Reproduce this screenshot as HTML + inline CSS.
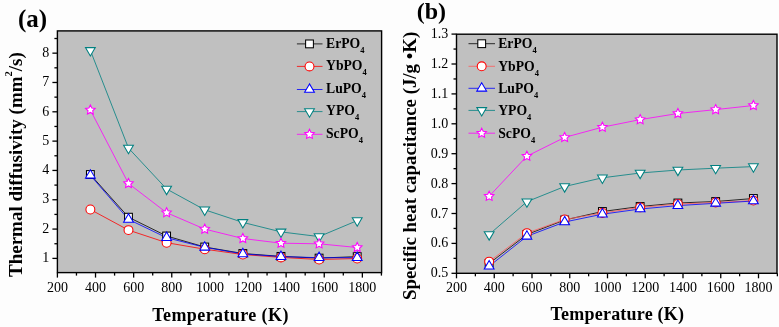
<!DOCTYPE html>
<html><head><meta charset="utf-8"><style>
html,body{margin:0;padding:0;background:#fdfdfd;}
svg{display:block;will-change:transform;}
text{font-family:"Liberation Serif",serif;fill:#000;}
.tk{font-size:14px;}
.lg{font-size:13.7px;font-weight:bold;}
.sub{font-size:8.5px;}
.sup{font-size:10.5px;font-weight:bold;}
.pl{font-size:25px;font-weight:bold;}
.plb{font-size:24px;font-weight:bold;}
.at{font-size:18px;font-weight:bold;letter-spacing:0.4px;}
.ata{font-size:19.0px;font-weight:bold;}
.atb{font-size:18.85px;font-weight:bold;}
.atxb{font-size:18px;font-weight:bold;letter-spacing:0.22px;}
</style></head><body>
<svg width="779" height="327" viewBox="0 0 779 327">
<rect width="779" height="327" fill="#fdfdfd"/>
<rect x="57.4" y="30.9" width="324.20000000000005" height="241.70000000000002" fill="#c0c0c0"/>
<polyline points="90.37,174.50 128.49,217.20 166.61,236.00 204.73,247.00 242.85,253.50 280.97,256.40 319.09,258.10 357.21,256.60" fill="none" stroke="#000000" stroke-width="0.8"/>
<polyline points="90.37,209.50 128.49,230.10 166.61,242.70 204.73,249.20 242.85,254.50 280.97,257.40 319.09,259.50 357.21,258.50" fill="none" stroke="#ff0000" stroke-width="0.8"/>
<polyline points="90.37,175.30 128.49,219.40 166.61,237.70 204.73,247.30 242.85,253.90 280.97,256.60 319.09,257.70 357.21,257.70" fill="none" stroke="#0000ff" stroke-width="0.8"/>
<polyline points="90.37,50.40 128.49,148.10 166.61,189.00 204.73,209.80 242.85,222.40 280.97,231.90 319.09,236.60 357.21,220.60" fill="none" stroke="#008080" stroke-width="0.8"/>
<polyline points="90.37,110.00 128.49,183.50 166.61,212.70 204.73,229.10 242.85,238.50 280.97,243.20 319.09,243.80 357.21,247.50" fill="none" stroke="#ff00ff" stroke-width="0.8"/>
<rect x="86.47" y="170.60" width="7.8" height="7.8" fill="#fff" stroke="#000000" stroke-width="1.05"/>
<rect x="124.59" y="213.30" width="7.8" height="7.8" fill="#fff" stroke="#000000" stroke-width="1.05"/>
<rect x="162.71" y="232.10" width="7.8" height="7.8" fill="#fff" stroke="#000000" stroke-width="1.05"/>
<rect x="200.83" y="243.10" width="7.8" height="7.8" fill="#fff" stroke="#000000" stroke-width="1.05"/>
<rect x="238.95" y="249.60" width="7.8" height="7.8" fill="#fff" stroke="#000000" stroke-width="1.05"/>
<rect x="277.07" y="252.50" width="7.8" height="7.8" fill="#fff" stroke="#000000" stroke-width="1.05"/>
<rect x="315.19" y="254.20" width="7.8" height="7.8" fill="#fff" stroke="#000000" stroke-width="1.05"/>
<rect x="353.31" y="252.70" width="7.8" height="7.8" fill="#fff" stroke="#000000" stroke-width="1.05"/>
<circle cx="90.37" cy="209.50" r="4.45" fill="#fff" stroke="#ff0000" stroke-width="1.05"/>
<circle cx="128.49" cy="230.10" r="4.45" fill="#fff" stroke="#ff0000" stroke-width="1.05"/>
<circle cx="166.61" cy="242.70" r="4.45" fill="#fff" stroke="#ff0000" stroke-width="1.05"/>
<circle cx="204.73" cy="249.20" r="4.45" fill="#fff" stroke="#ff0000" stroke-width="1.05"/>
<circle cx="242.85" cy="254.50" r="4.45" fill="#fff" stroke="#ff0000" stroke-width="1.05"/>
<circle cx="280.97" cy="257.40" r="4.45" fill="#fff" stroke="#ff0000" stroke-width="1.05"/>
<circle cx="319.09" cy="259.50" r="4.45" fill="#fff" stroke="#ff0000" stroke-width="1.05"/>
<circle cx="357.21" cy="258.50" r="4.45" fill="#fff" stroke="#ff0000" stroke-width="1.05"/>
<polygon points="90.37,169.70 85.47,178.10 95.27,178.10" fill="#fff" stroke="#0000ff" stroke-width="1.05" stroke-linejoin="miter"/>
<polygon points="128.49,213.80 123.59,222.20 133.39,222.20" fill="#fff" stroke="#0000ff" stroke-width="1.05" stroke-linejoin="miter"/>
<polygon points="166.61,232.10 161.71,240.50 171.51,240.50" fill="#fff" stroke="#0000ff" stroke-width="1.05" stroke-linejoin="miter"/>
<polygon points="204.73,241.70 199.83,250.10 209.63,250.10" fill="#fff" stroke="#0000ff" stroke-width="1.05" stroke-linejoin="miter"/>
<polygon points="242.85,248.30 237.95,256.70 247.75,256.70" fill="#fff" stroke="#0000ff" stroke-width="1.05" stroke-linejoin="miter"/>
<polygon points="280.97,251.00 276.07,259.40 285.87,259.40" fill="#fff" stroke="#0000ff" stroke-width="1.05" stroke-linejoin="miter"/>
<polygon points="319.09,252.10 314.19,260.50 323.99,260.50" fill="#fff" stroke="#0000ff" stroke-width="1.05" stroke-linejoin="miter"/>
<polygon points="357.21,252.10 352.31,260.50 362.11,260.50" fill="#fff" stroke="#0000ff" stroke-width="1.05" stroke-linejoin="miter"/>
<polygon points="85.47,47.60 95.27,47.60 90.37,56.00" fill="#fff" stroke="#008080" stroke-width="1.05"/>
<polygon points="123.59,145.30 133.39,145.30 128.49,153.70" fill="#fff" stroke="#008080" stroke-width="1.05"/>
<polygon points="161.71,186.20 171.51,186.20 166.61,194.60" fill="#fff" stroke="#008080" stroke-width="1.05"/>
<polygon points="199.83,207.00 209.63,207.00 204.73,215.40" fill="#fff" stroke="#008080" stroke-width="1.05"/>
<polygon points="237.95,219.60 247.75,219.60 242.85,228.00" fill="#fff" stroke="#008080" stroke-width="1.05"/>
<polygon points="276.07,229.10 285.87,229.10 280.97,237.50" fill="#fff" stroke="#008080" stroke-width="1.05"/>
<polygon points="314.19,233.80 323.99,233.80 319.09,242.20" fill="#fff" stroke="#008080" stroke-width="1.05"/>
<polygon points="352.31,217.80 362.11,217.80 357.21,226.20" fill="#fff" stroke="#008080" stroke-width="1.05"/>
<polygon points="90.37,105.00 91.81,108.02 95.13,108.45 92.70,110.76 93.31,114.05 90.37,112.45 87.43,114.05 88.04,110.76 85.62,108.45 88.93,108.02" fill="#fff" stroke="#ff00ff" stroke-width="1.05"/>
<polygon points="128.49,178.50 129.93,181.52 133.25,181.95 130.82,184.26 131.43,187.55 128.49,185.95 125.55,187.55 126.16,184.26 123.74,181.95 127.05,181.52" fill="#fff" stroke="#ff00ff" stroke-width="1.05"/>
<polygon points="166.61,207.70 168.05,210.72 171.37,211.15 168.94,213.46 169.55,216.75 166.61,215.15 163.67,216.75 164.28,213.46 161.86,211.15 165.17,210.72" fill="#fff" stroke="#ff00ff" stroke-width="1.05"/>
<polygon points="204.73,224.10 206.17,227.12 209.49,227.55 207.06,229.86 207.67,233.15 204.73,231.55 201.79,233.15 202.40,229.86 199.98,227.55 203.29,227.12" fill="#fff" stroke="#ff00ff" stroke-width="1.05"/>
<polygon points="242.85,233.50 244.29,236.52 247.61,236.95 245.18,239.26 245.79,242.55 242.85,240.95 239.91,242.55 240.52,239.26 238.10,236.95 241.41,236.52" fill="#fff" stroke="#ff00ff" stroke-width="1.05"/>
<polygon points="280.97,238.20 282.41,241.22 285.73,241.65 283.30,243.96 283.91,247.25 280.97,245.65 278.03,247.25 278.64,243.96 276.22,241.65 279.53,241.22" fill="#fff" stroke="#ff00ff" stroke-width="1.05"/>
<polygon points="319.09,238.80 320.53,241.82 323.85,242.25 321.42,244.56 322.03,247.85 319.09,246.25 316.15,247.85 316.76,244.56 314.34,242.25 317.65,241.82" fill="#fff" stroke="#ff00ff" stroke-width="1.05"/>
<polygon points="357.21,242.50 358.65,245.52 361.97,245.95 359.54,248.26 360.15,251.55 357.21,249.95 354.27,251.55 354.88,248.26 352.46,245.95 355.77,245.52" fill="#fff" stroke="#ff00ff" stroke-width="1.05"/>
<line x1="296.9" y1="43.9" x2="322.5" y2="43.9" stroke="#000000" stroke-width="0.8"/>
<rect x="305.60" y="40.00" width="7.8" height="7.8" fill="#fff" stroke="#000000" stroke-width="1.05"/>
<text x="326.0" y="47.50" class="lg">ErPO<tspan class="sub" dy="5.2">4</tspan></text>
<line x1="296.9" y1="66.4" x2="322.5" y2="66.4" stroke="#ff0000" stroke-width="0.8"/>
<circle cx="309.50" cy="66.40" r="4.45" fill="#fff" stroke="#ff0000" stroke-width="1.05"/>
<text x="326.0" y="70.00" class="lg">YbPO<tspan class="sub" dy="5.2">4</tspan></text>
<line x1="296.9" y1="89.5" x2="322.5" y2="89.5" stroke="#0000ff" stroke-width="0.8"/>
<polygon points="309.50,83.90 304.60,92.30 314.40,92.30" fill="#fff" stroke="#0000ff" stroke-width="1.05" stroke-linejoin="miter"/>
<text x="326.0" y="93.10" class="lg">LuPO<tspan class="sub" dy="5.2">4</tspan></text>
<line x1="296.9" y1="111.6" x2="322.5" y2="111.6" stroke="#008080" stroke-width="0.8"/>
<polygon points="304.60,108.80 314.40,108.80 309.50,117.20" fill="#fff" stroke="#008080" stroke-width="1.05"/>
<text x="326.0" y="115.20" class="lg">YPO<tspan class="sub" dy="5.2">4</tspan></text>
<line x1="296.9" y1="134.3" x2="322.5" y2="134.3" stroke="#ff00ff" stroke-width="0.8"/>
<polygon points="309.50,129.30 310.94,132.32 314.26,132.75 311.83,135.06 312.44,138.35 309.50,136.75 306.56,138.35 307.17,135.06 304.74,132.75 308.06,132.32" fill="#fff" stroke="#ff00ff" stroke-width="1.05"/>
<text x="326.0" y="137.90" class="lg">ScPO<tspan class="sub" dy="5.2">4</tspan></text>
<rect x="57.4" y="30.9" width="324.20000000000005" height="241.70000000000002" fill="none" stroke="#000" stroke-width="1.4"/>
<line x1="52.4" y1="258.40" x2="57.4" y2="258.40" stroke="#000" stroke-width="1.3"/>
<text x="49.3" y="262.10" class="tk" text-anchor="end">1</text>
<line x1="52.4" y1="229.08" x2="57.4" y2="229.08" stroke="#000" stroke-width="1.3"/>
<text x="49.3" y="232.78" class="tk" text-anchor="end">2</text>
<line x1="52.4" y1="199.76" x2="57.4" y2="199.76" stroke="#000" stroke-width="1.3"/>
<text x="49.3" y="203.46" class="tk" text-anchor="end">3</text>
<line x1="52.4" y1="170.44" x2="57.4" y2="170.44" stroke="#000" stroke-width="1.3"/>
<text x="49.3" y="174.14" class="tk" text-anchor="end">4</text>
<line x1="52.4" y1="141.12" x2="57.4" y2="141.12" stroke="#000" stroke-width="1.3"/>
<text x="49.3" y="144.82" class="tk" text-anchor="end">5</text>
<line x1="52.4" y1="111.80" x2="57.4" y2="111.80" stroke="#000" stroke-width="1.3"/>
<text x="49.3" y="115.50" class="tk" text-anchor="end">6</text>
<line x1="52.4" y1="82.48" x2="57.4" y2="82.48" stroke="#000" stroke-width="1.3"/>
<text x="49.3" y="86.18" class="tk" text-anchor="end">7</text>
<line x1="52.4" y1="53.16" x2="57.4" y2="53.16" stroke="#000" stroke-width="1.3"/>
<text x="49.3" y="56.86" class="tk" text-anchor="end">8</text>
<line x1="54.4" y1="243.74" x2="57.4" y2="243.74" stroke="#000" stroke-width="1.3"/>
<line x1="54.4" y1="214.42" x2="57.4" y2="214.42" stroke="#000" stroke-width="1.3"/>
<line x1="54.4" y1="185.10" x2="57.4" y2="185.10" stroke="#000" stroke-width="1.3"/>
<line x1="54.4" y1="155.78" x2="57.4" y2="155.78" stroke="#000" stroke-width="1.3"/>
<line x1="54.4" y1="126.46" x2="57.4" y2="126.46" stroke="#000" stroke-width="1.3"/>
<line x1="54.4" y1="97.14" x2="57.4" y2="97.14" stroke="#000" stroke-width="1.3"/>
<line x1="54.4" y1="67.82" x2="57.4" y2="67.82" stroke="#000" stroke-width="1.3"/>
<line x1="54.4" y1="38.50" x2="57.4" y2="38.50" stroke="#000" stroke-width="1.3"/>
<line x1="57.40" y1="272.6" x2="57.40" y2="277.6" stroke="#000" stroke-width="1.3"/>
<text x="57.40" y="291.6" class="tk" text-anchor="middle">200</text>
<line x1="95.52" y1="272.6" x2="95.52" y2="277.6" stroke="#000" stroke-width="1.3"/>
<text x="95.52" y="291.6" class="tk" text-anchor="middle">400</text>
<line x1="133.64" y1="272.6" x2="133.64" y2="277.6" stroke="#000" stroke-width="1.3"/>
<text x="133.64" y="291.6" class="tk" text-anchor="middle">600</text>
<line x1="171.76" y1="272.6" x2="171.76" y2="277.6" stroke="#000" stroke-width="1.3"/>
<text x="171.76" y="291.6" class="tk" text-anchor="middle">800</text>
<line x1="209.88" y1="272.6" x2="209.88" y2="277.6" stroke="#000" stroke-width="1.3"/>
<text x="209.88" y="291.6" class="tk" text-anchor="middle">1000</text>
<line x1="248.00" y1="272.6" x2="248.00" y2="277.6" stroke="#000" stroke-width="1.3"/>
<text x="248.00" y="291.6" class="tk" text-anchor="middle">1200</text>
<line x1="286.12" y1="272.6" x2="286.12" y2="277.6" stroke="#000" stroke-width="1.3"/>
<text x="286.12" y="291.6" class="tk" text-anchor="middle">1400</text>
<line x1="324.24" y1="272.6" x2="324.24" y2="277.6" stroke="#000" stroke-width="1.3"/>
<text x="324.24" y="291.6" class="tk" text-anchor="middle">1600</text>
<line x1="362.36" y1="272.6" x2="362.36" y2="277.6" stroke="#000" stroke-width="1.3"/>
<text x="362.36" y="291.6" class="tk" text-anchor="middle">1800</text>
<line x1="76.46" y1="272.6" x2="76.46" y2="275.6" stroke="#000" stroke-width="1.3"/>
<line x1="114.58" y1="272.6" x2="114.58" y2="275.6" stroke="#000" stroke-width="1.3"/>
<line x1="152.70" y1="272.6" x2="152.70" y2="275.6" stroke="#000" stroke-width="1.3"/>
<line x1="190.82" y1="272.6" x2="190.82" y2="275.6" stroke="#000" stroke-width="1.3"/>
<line x1="228.94" y1="272.6" x2="228.94" y2="275.6" stroke="#000" stroke-width="1.3"/>
<line x1="267.06" y1="272.6" x2="267.06" y2="275.6" stroke="#000" stroke-width="1.3"/>
<line x1="305.18" y1="272.6" x2="305.18" y2="275.6" stroke="#000" stroke-width="1.3"/>
<line x1="343.30" y1="272.6" x2="343.30" y2="275.6" stroke="#000" stroke-width="1.3"/>
<line x1="381.42" y1="272.6" x2="381.42" y2="275.6" stroke="#000" stroke-width="1.3"/>
<text x="17.9" y="26.5" class="pl">(a)</text>
<text transform="translate(21.8,277.0) rotate(-90)" class="ata">Thermal diffusivity (mm<tspan dy="-10" class="sup">2</tspan><tspan dy="10">/s)</tspan></text>
<text x="152.3" y="320.5" class="at">Temperature (K)</text>
<rect x="456.5" y="34.2" width="320.5" height="239.10000000000002" fill="#c0c0c0"/>
<polyline points="489.15,196.30 526.90,156.20 564.65,137.40 602.40,127.20 640.15,119.60 677.90,113.50 715.65,109.60 753.40,105.50" fill="none" stroke="#ff00ff" stroke-width="0.8"/>
<polyline points="489.15,234.50 526.90,201.70 564.65,186.50 602.40,177.80 640.15,173.00 677.90,170.00 715.65,168.20 753.40,166.60" fill="none" stroke="#008080" stroke-width="0.8"/>
<polyline points="489.15,263.50 526.90,234.50 564.65,220.00 602.40,211.50 640.15,206.50 677.90,203.00 715.65,201.50 753.40,198.50" fill="none" stroke="#000000" stroke-width="0.8"/>
<polyline points="489.15,261.60 526.90,233.10 564.65,219.50 602.40,213.00 640.15,207.40 677.90,204.00 715.65,202.50 753.40,200.60" fill="none" stroke="#ff5a5a" stroke-width="0.8"/>
<polyline points="489.15,266.20 526.90,236.30 564.65,222.00 602.40,214.20 640.15,209.00 677.90,205.60 715.65,203.30 753.40,201.00" fill="none" stroke="#0000ff" stroke-width="0.8"/>
<polygon points="489.15,191.30 490.59,194.32 493.91,194.75 491.48,197.06 492.09,200.35 489.15,198.75 486.21,200.35 486.82,197.06 484.40,194.75 487.71,194.32" fill="#fff" stroke="#ff00ff" stroke-width="1.05"/>
<polygon points="526.90,151.20 528.34,154.22 531.66,154.65 529.23,156.96 529.84,160.25 526.90,158.65 523.96,160.25 524.57,156.96 522.15,154.65 525.46,154.22" fill="#fff" stroke="#ff00ff" stroke-width="1.05"/>
<polygon points="564.65,132.40 566.09,135.42 569.41,135.85 566.98,138.16 567.59,141.45 564.65,139.85 561.71,141.45 562.32,138.16 559.90,135.85 563.21,135.42" fill="#fff" stroke="#ff00ff" stroke-width="1.05"/>
<polygon points="602.40,122.20 603.84,125.22 607.16,125.65 604.73,127.96 605.34,131.25 602.40,129.65 599.46,131.25 600.07,127.96 597.65,125.65 600.96,125.22" fill="#fff" stroke="#ff00ff" stroke-width="1.05"/>
<polygon points="640.15,114.60 641.59,117.62 644.91,118.05 642.48,120.36 643.09,123.65 640.15,122.05 637.21,123.65 637.82,120.36 635.40,118.05 638.71,117.62" fill="#fff" stroke="#ff00ff" stroke-width="1.05"/>
<polygon points="677.90,108.50 679.34,111.52 682.66,111.95 680.23,114.26 680.84,117.55 677.90,115.95 674.96,117.55 675.57,114.26 673.15,111.95 676.46,111.52" fill="#fff" stroke="#ff00ff" stroke-width="1.05"/>
<polygon points="715.65,104.60 717.09,107.62 720.41,108.05 717.98,110.36 718.59,113.65 715.65,112.05 712.71,113.65 713.32,110.36 710.90,108.05 714.21,107.62" fill="#fff" stroke="#ff00ff" stroke-width="1.05"/>
<polygon points="753.40,100.50 754.84,103.52 758.16,103.95 755.73,106.26 756.34,109.55 753.40,107.95 750.46,109.55 751.07,106.26 748.65,103.95 751.96,103.52" fill="#fff" stroke="#ff00ff" stroke-width="1.05"/>
<polygon points="484.25,231.70 494.05,231.70 489.15,240.10" fill="#fff" stroke="#008080" stroke-width="1.05"/>
<polygon points="522.00,198.90 531.80,198.90 526.90,207.30" fill="#fff" stroke="#008080" stroke-width="1.05"/>
<polygon points="559.75,183.70 569.55,183.70 564.65,192.10" fill="#fff" stroke="#008080" stroke-width="1.05"/>
<polygon points="597.50,175.00 607.30,175.00 602.40,183.40" fill="#fff" stroke="#008080" stroke-width="1.05"/>
<polygon points="635.25,170.20 645.05,170.20 640.15,178.60" fill="#fff" stroke="#008080" stroke-width="1.05"/>
<polygon points="673.00,167.20 682.80,167.20 677.90,175.60" fill="#fff" stroke="#008080" stroke-width="1.05"/>
<polygon points="710.75,165.40 720.55,165.40 715.65,173.80" fill="#fff" stroke="#008080" stroke-width="1.05"/>
<polygon points="748.50,163.80 758.30,163.80 753.40,172.20" fill="#fff" stroke="#008080" stroke-width="1.05"/>
<rect x="485.25" y="259.60" width="7.8" height="7.8" fill="#fff" stroke="#000000" stroke-width="1.05"/>
<rect x="523.00" y="230.60" width="7.8" height="7.8" fill="#fff" stroke="#000000" stroke-width="1.05"/>
<rect x="560.75" y="216.10" width="7.8" height="7.8" fill="#fff" stroke="#000000" stroke-width="1.05"/>
<rect x="598.50" y="207.60" width="7.8" height="7.8" fill="#fff" stroke="#000000" stroke-width="1.05"/>
<rect x="636.25" y="202.60" width="7.8" height="7.8" fill="#fff" stroke="#000000" stroke-width="1.05"/>
<rect x="674.00" y="199.10" width="7.8" height="7.8" fill="#fff" stroke="#000000" stroke-width="1.05"/>
<rect x="711.75" y="197.60" width="7.8" height="7.8" fill="#fff" stroke="#000000" stroke-width="1.05"/>
<rect x="749.50" y="194.60" width="7.8" height="7.8" fill="#fff" stroke="#000000" stroke-width="1.05"/>
<circle cx="489.15" cy="261.60" r="4.45" fill="#fff" stroke="#ff0000" stroke-width="1.05"/>
<circle cx="526.90" cy="233.10" r="4.45" fill="#fff" stroke="#ff0000" stroke-width="1.05"/>
<circle cx="564.65" cy="219.50" r="4.45" fill="#fff" stroke="#ff0000" stroke-width="1.05"/>
<circle cx="602.40" cy="213.00" r="4.45" fill="#fff" stroke="#ff0000" stroke-width="1.05"/>
<circle cx="640.15" cy="207.40" r="4.45" fill="#fff" stroke="#ff0000" stroke-width="1.05"/>
<circle cx="677.90" cy="204.00" r="4.45" fill="#fff" stroke="#ff0000" stroke-width="1.05"/>
<circle cx="715.65" cy="202.50" r="4.45" fill="#fff" stroke="#ff0000" stroke-width="1.05"/>
<circle cx="753.40" cy="200.60" r="4.45" fill="#fff" stroke="#ff0000" stroke-width="1.05"/>
<polygon points="489.15,260.60 484.25,269.00 494.05,269.00" fill="#fff" stroke="#0000ff" stroke-width="1.05" stroke-linejoin="miter"/>
<polygon points="526.90,230.70 522.00,239.10 531.80,239.10" fill="#fff" stroke="#0000ff" stroke-width="1.05" stroke-linejoin="miter"/>
<polygon points="564.65,216.40 559.75,224.80 569.55,224.80" fill="#fff" stroke="#0000ff" stroke-width="1.05" stroke-linejoin="miter"/>
<polygon points="602.40,208.60 597.50,217.00 607.30,217.00" fill="#fff" stroke="#0000ff" stroke-width="1.05" stroke-linejoin="miter"/>
<polygon points="640.15,203.40 635.25,211.80 645.05,211.80" fill="#fff" stroke="#0000ff" stroke-width="1.05" stroke-linejoin="miter"/>
<polygon points="677.90,200.00 673.00,208.40 682.80,208.40" fill="#fff" stroke="#0000ff" stroke-width="1.05" stroke-linejoin="miter"/>
<polygon points="715.65,197.70 710.75,206.10 720.55,206.10" fill="#fff" stroke="#0000ff" stroke-width="1.05" stroke-linejoin="miter"/>
<polygon points="753.40,195.40 748.50,203.80 758.30,203.80" fill="#fff" stroke="#0000ff" stroke-width="1.05" stroke-linejoin="miter"/>
<line x1="468.5" y1="43.7" x2="495.0" y2="43.7" stroke="#000000" stroke-width="0.8"/>
<rect x="477.80" y="39.80" width="7.8" height="7.8" fill="#fff" stroke="#000000" stroke-width="1.05"/>
<text x="498.2" y="48.10" class="lg">ErPO<tspan class="sub" dy="5.2">4</tspan></text>
<line x1="468.5" y1="66.3" x2="495.0" y2="66.3" stroke="#ff5a5a" stroke-width="0.8"/>
<circle cx="481.70" cy="66.30" r="4.45" fill="#fff" stroke="#ff0000" stroke-width="1.05"/>
<text x="498.2" y="70.70" class="lg">YbPO<tspan class="sub" dy="5.2">4</tspan></text>
<line x1="468.5" y1="88.3" x2="495.0" y2="88.3" stroke="#0000ff" stroke-width="0.8"/>
<polygon points="481.70,82.70 476.80,91.10 486.60,91.10" fill="#fff" stroke="#0000ff" stroke-width="1.05" stroke-linejoin="miter"/>
<text x="498.2" y="92.70" class="lg">LuPO<tspan class="sub" dy="5.2">4</tspan></text>
<line x1="468.5" y1="110.4" x2="495.0" y2="110.4" stroke="#008080" stroke-width="0.8"/>
<polygon points="476.80,107.60 486.60,107.60 481.70,116.00" fill="#fff" stroke="#008080" stroke-width="1.05"/>
<text x="498.2" y="114.80" class="lg">YPO<tspan class="sub" dy="5.2">4</tspan></text>
<line x1="468.5" y1="133.2" x2="495.0" y2="133.2" stroke="#ff00ff" stroke-width="0.8"/>
<polygon points="481.70,128.20 483.14,131.22 486.46,131.65 484.03,133.96 484.64,137.25 481.70,135.65 478.76,137.25 479.37,133.96 476.94,131.65 480.26,131.22" fill="#fff" stroke="#ff00ff" stroke-width="1.05"/>
<text x="498.2" y="137.60" class="lg">ScPO<tspan class="sub" dy="5.2">4</tspan></text>
<rect x="456.5" y="34.2" width="320.5" height="239.10000000000002" fill="none" stroke="#000" stroke-width="1.4"/>
<line x1="451.5" y1="273.30" x2="456.5" y2="273.30" stroke="#000" stroke-width="1.3"/>
<text x="448.2" y="277.30" class="tk" text-anchor="end">0.5</text>
<line x1="451.5" y1="243.40" x2="456.5" y2="243.40" stroke="#000" stroke-width="1.3"/>
<text x="448.2" y="247.40" class="tk" text-anchor="end">0.6</text>
<line x1="451.5" y1="213.50" x2="456.5" y2="213.50" stroke="#000" stroke-width="1.3"/>
<text x="448.2" y="217.50" class="tk" text-anchor="end">0.7</text>
<line x1="451.5" y1="183.60" x2="456.5" y2="183.60" stroke="#000" stroke-width="1.3"/>
<text x="448.2" y="187.60" class="tk" text-anchor="end">0.8</text>
<line x1="451.5" y1="153.70" x2="456.5" y2="153.70" stroke="#000" stroke-width="1.3"/>
<text x="448.2" y="157.70" class="tk" text-anchor="end">0.9</text>
<line x1="451.5" y1="123.80" x2="456.5" y2="123.80" stroke="#000" stroke-width="1.3"/>
<text x="448.2" y="127.80" class="tk" text-anchor="end">1.0</text>
<line x1="451.5" y1="93.90" x2="456.5" y2="93.90" stroke="#000" stroke-width="1.3"/>
<text x="448.2" y="97.90" class="tk" text-anchor="end">1.1</text>
<line x1="451.5" y1="64.00" x2="456.5" y2="64.00" stroke="#000" stroke-width="1.3"/>
<text x="448.2" y="68.00" class="tk" text-anchor="end">1.2</text>
<line x1="451.5" y1="34.10" x2="456.5" y2="34.10" stroke="#000" stroke-width="1.3"/>
<text x="448.2" y="38.10" class="tk" text-anchor="end">1.3</text>
<line x1="453.5" y1="258.35" x2="456.5" y2="258.35" stroke="#000" stroke-width="1.3"/>
<line x1="453.5" y1="228.45" x2="456.5" y2="228.45" stroke="#000" stroke-width="1.3"/>
<line x1="453.5" y1="198.55" x2="456.5" y2="198.55" stroke="#000" stroke-width="1.3"/>
<line x1="453.5" y1="168.65" x2="456.5" y2="168.65" stroke="#000" stroke-width="1.3"/>
<line x1="453.5" y1="138.75" x2="456.5" y2="138.75" stroke="#000" stroke-width="1.3"/>
<line x1="453.5" y1="108.85" x2="456.5" y2="108.85" stroke="#000" stroke-width="1.3"/>
<line x1="453.5" y1="78.95" x2="456.5" y2="78.95" stroke="#000" stroke-width="1.3"/>
<line x1="453.5" y1="49.05" x2="456.5" y2="49.05" stroke="#000" stroke-width="1.3"/>
<line x1="456.50" y1="273.3" x2="456.50" y2="278.3" stroke="#000" stroke-width="1.3"/>
<text x="456.50" y="291.6" class="tk" text-anchor="middle">200</text>
<line x1="494.25" y1="273.3" x2="494.25" y2="278.3" stroke="#000" stroke-width="1.3"/>
<text x="494.25" y="291.6" class="tk" text-anchor="middle">400</text>
<line x1="532.00" y1="273.3" x2="532.00" y2="278.3" stroke="#000" stroke-width="1.3"/>
<text x="532.00" y="291.6" class="tk" text-anchor="middle">600</text>
<line x1="569.75" y1="273.3" x2="569.75" y2="278.3" stroke="#000" stroke-width="1.3"/>
<text x="569.75" y="291.6" class="tk" text-anchor="middle">800</text>
<line x1="607.50" y1="273.3" x2="607.50" y2="278.3" stroke="#000" stroke-width="1.3"/>
<text x="607.50" y="291.6" class="tk" text-anchor="middle">1000</text>
<line x1="645.25" y1="273.3" x2="645.25" y2="278.3" stroke="#000" stroke-width="1.3"/>
<text x="645.25" y="291.6" class="tk" text-anchor="middle">1200</text>
<line x1="683.00" y1="273.3" x2="683.00" y2="278.3" stroke="#000" stroke-width="1.3"/>
<text x="683.00" y="291.6" class="tk" text-anchor="middle">1400</text>
<line x1="720.75" y1="273.3" x2="720.75" y2="278.3" stroke="#000" stroke-width="1.3"/>
<text x="720.75" y="291.6" class="tk" text-anchor="middle">1600</text>
<line x1="758.50" y1="273.3" x2="758.50" y2="278.3" stroke="#000" stroke-width="1.3"/>
<text x="758.50" y="291.6" class="tk" text-anchor="middle">1800</text>
<line x1="475.38" y1="273.3" x2="475.38" y2="276.3" stroke="#000" stroke-width="1.3"/>
<line x1="513.12" y1="273.3" x2="513.12" y2="276.3" stroke="#000" stroke-width="1.3"/>
<line x1="550.88" y1="273.3" x2="550.88" y2="276.3" stroke="#000" stroke-width="1.3"/>
<line x1="588.62" y1="273.3" x2="588.62" y2="276.3" stroke="#000" stroke-width="1.3"/>
<line x1="626.38" y1="273.3" x2="626.38" y2="276.3" stroke="#000" stroke-width="1.3"/>
<line x1="664.12" y1="273.3" x2="664.12" y2="276.3" stroke="#000" stroke-width="1.3"/>
<line x1="701.88" y1="273.3" x2="701.88" y2="276.3" stroke="#000" stroke-width="1.3"/>
<line x1="739.62" y1="273.3" x2="739.62" y2="276.3" stroke="#000" stroke-width="1.3"/>
<line x1="777.38" y1="273.3" x2="777.38" y2="276.3" stroke="#000" stroke-width="1.3"/>
<text x="416.7" y="18.8" class="plb">(b)</text>
<text transform="translate(416.3,300.0) rotate(-90)" class="atb">Specific heat capacitance (J/g •K)</text>
<text x="550.5" y="320.0" class="atxb">Temperature (K)</text>
</svg>
</body></html>
